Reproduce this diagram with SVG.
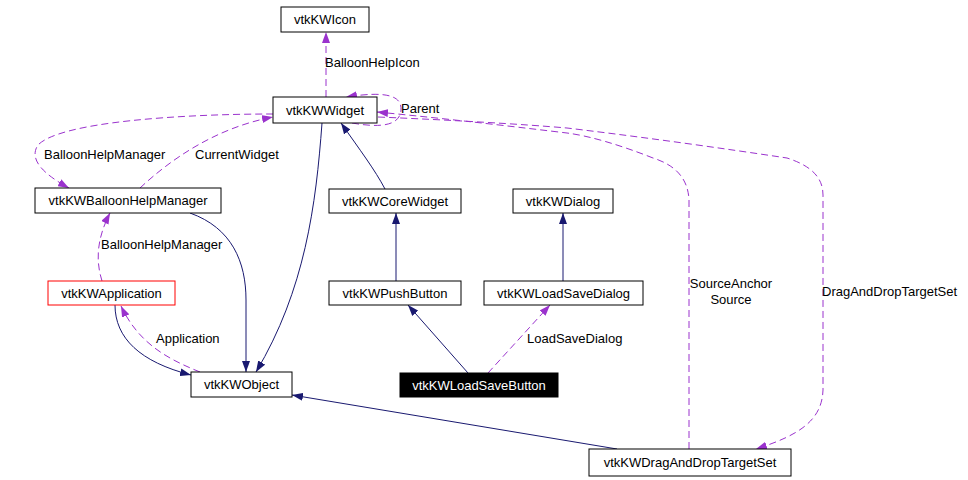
<svg xmlns="http://www.w3.org/2000/svg" width="968" height="480" viewBox="0 0 968 480">
<style>
.n rect{fill:#fff;stroke:#000;stroke-width:1}
text{font-family:"Liberation Sans",Arial,sans-serif;font-size:13px;fill:#000}
.n text{text-anchor:middle}
.s{fill:none;stroke:#191970;stroke-width:1}
.d{fill:none;stroke:#9a32cd;stroke-width:1;stroke-dasharray:7,4}
</style>
<defs>
<marker id="an" viewBox="0 0 11 8" refX="11" refY="4" markerWidth="11" markerHeight="8" markerUnits="userSpaceOnUse" orient="auto"><path d="M0,0 L11,4 L0,8 Z" fill="#191970"/></marker>
<marker id="ap" viewBox="0 0 11 8" refX="11" refY="4" markerWidth="11" markerHeight="8" markerUnits="userSpaceOnUse" orient="auto"><path d="M0,0 L11,4 L0,8 Z" fill="#9a32cd"/></marker>
</defs>
<rect width="968" height="480" fill="#fff"/>
<g id="edges">
<path class="d" d="M326,97 L326,32" marker-end="url(#ap)"/>
<path class="d" d="M352,123 C380,128 400,126 401,110 C402,95 385,91 346,97" marker-end="url(#ap)"/>
<path class="d" d="M273,114 C180,114 60,122 38,145 C28,160 45,175 69,188" marker-end="url(#ap)"/>
<path class="d" d="M140,188 C170,160 215,128 273,117" marker-end="url(#ap)"/>
<path class="d" d="M102,281 C96,262 96,240 110,213" marker-end="url(#ap)"/>
<path class="s" d="M115,305 C115,338 140,362 191,375" marker-end="url(#an)"/>
<path class="d" d="M200,372 C165,358 138,342 121,306" marker-end="url(#ap)"/>
<path class="s" d="M190,213 C232,228 246,262 246,300 L246,372" marker-end="url(#an)"/>
<path class="s" d="M322,123 C316,205 305,290 256,372" marker-end="url(#an)"/>
<path class="s" d="M385,189 C375,170 360,150 341,123" marker-end="url(#an)"/>
<path class="s" d="M396,281 L396,213" marker-end="url(#an)"/>
<path class="s" d="M563,281 L563,213" marker-end="url(#an)"/>
<path class="s" d="M468,373 L408,305" marker-end="url(#an)"/>
<path class="d" d="M488,373 L550,305" marker-end="url(#ap)"/>
<path class="s" d="M617,449 L292,395" marker-end="url(#an)"/>
<path class="d" d="M689,449 L689,200 C688,178 675,165 653,158 C620,145 590,136 567,133 C500,125 440,118 377,112" marker-end="url(#ap)"/>
<path class="d" d="M378,117 C450,120 520,124 567,128 C650,138 720,148 787,158 C812,166 823,178 823,195 L823,390 C822,420 800,435 756,449" marker-end="url(#ap)"/>
</g>
<g font-size="13">
<text x="325" y="67">BalloonHelpIcon</text>
<text x="401" y="113">Parent</text>
<text x="44" y="159">BalloonHelpManager</text>
<text x="195" y="159">CurrentWidget</text>
<text x="101" y="249">BalloonHelpManager</text>
<text x="156" y="343">Application</text>
<text x="527" y="343">LoadSaveDialog</text>
<text x="731" y="288" text-anchor="middle">SourceAnchor</text>
<text x="731" y="304" text-anchor="middle">Source</text>
<text x="822" y="296">DragAndDropTargetSet</text>
</g>
<g id="vtkKWIcon" class="n"><rect x="281" y="7" width="88" height="25"/><text x="325" y="24">vtkKWIcon</text></g>
<g id="vtkKWWidget" class="n"><rect x="273" y="97" width="104" height="26"/><text x="325" y="115">vtkKWWidget</text></g>
<g id="vtkKWBalloonHelpManager" class="n"><rect x="35" y="188" width="186" height="25"/><text x="128" y="205">vtkKWBalloonHelpManager</text></g>
<g id="vtkKWApplication" class="n"><rect x="48" y="281" width="127" height="24" style="stroke:#ff0000"/><text x="111.5" y="298">vtkKWApplication</text></g>
<g id="vtkKWObject" class="n"><rect x="191" y="372" width="101" height="25"/><text x="241.5" y="389">vtkKWObject</text></g>
<g id="vtkKWCoreWidget" class="n"><rect x="329" y="189" width="132" height="24"/><text x="395" y="206">vtkKWCoreWidget</text></g>
<g id="vtkKWDialog" class="n"><rect x="513" y="189" width="100" height="24"/><text x="563" y="206">vtkKWDialog</text></g>
<g id="vtkKWPushButton" class="n"><rect x="329" y="281" width="132" height="24"/><text x="395" y="298">vtkKWPushButton</text></g>
<g id="vtkKWLoadSaveDialog" class="n"><rect x="484" y="281" width="159" height="24"/><text x="563.5" y="298">vtkKWLoadSaveDialog</text></g>
<g id="vtkKWLoadSaveButton" class="n"><rect x="400" y="373" width="158" height="24" style="fill:#000"/><text x="479" y="390" style="fill:#fff">vtkKWLoadSaveButton</text></g>
<g id="vtkKWDragAndDropTargetSet" class="n"><rect x="589" y="449" width="202" height="27"/><text x="690" y="467">vtkKWDragAndDropTargetSet</text></g>
</svg>
